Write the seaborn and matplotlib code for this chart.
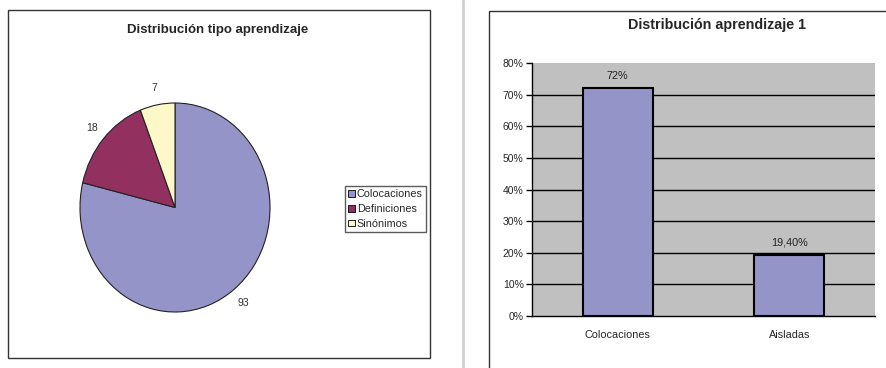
import matplotlib
matplotlib.use("Agg")
import matplotlib.pyplot as plt
import matplotlib.patches as mpatches
import matplotlib.lines as mlines
import seaborn as sns
import pandas as pd

# Pie data
pie_title = "Distribución tipo aprendizaje"
pie_categories = ["Colocaciones", "Definiciones", "Sinónimos"]
pie_values = [93, 18, 7]
pie_colors = ["#9494c8", "#923060", "#fdf8c8"]

# Bar data
bar_title = "Distribución aprendizaje 1"
bar_categories = ["Colocaciones", "Aisladas"]
bar_values = [0.72, 0.194]
bar_labels = ["72%", "19,40%"]
bar_color = "#9494c8"
y_ticks = [0, 0.1, 0.2, 0.3, 0.4, 0.5, 0.6, 0.7, 0.8]
y_ticklabels = ["0%", "10%", "20%", "30%", "40%", "50%", "60%", "70%", "80%"]

sns.set_style("white")
plt.rcParams["font.family"] = ["Liberation Sans", "DejaVu Sans"]

W, H = 887, 368
fig = plt.figure(figsize=(W / 100, H / 100), dpi=100)


def px_box(x0, y0, x1, y1):
    # pixel box (top-left origin) -> figure fraction rect
    return [x0 / W, 1 - y1 / H, (x1 - x0) / W, (y1 - y0) / H]


# panel frames and separator
fig.patches.append(mpatches.Rectangle((8 / W, 1 - 358 / H), 422 / W, 348 / H,
                                      transform=fig.transFigure, fill=False,
                                      edgecolor="#333333", lw=1))
fig.patches.append(mpatches.Rectangle((489 / W, -0.1), 1.0, 1.1 - 11 / H,
                                      transform=fig.transFigure, fill=False,
                                      edgecolor="#333333", lw=1))
fig.lines.append(mlines.Line2D([463 / W, 463 / W], [0, 1], transform=fig.transFigure,
                               color="#d0d0d0", lw=2))

# ---- pie ----
fig.text(218 / W, 1 - 30 / H, pie_title, ha="center", va="center",
         fontsize=9.5, fontweight="bold")
ax1 = fig.add_axes(px_box(80, 103, 270, 312))
wedges, texts = ax1.pie(pie_values, colors=pie_colors, startangle=90, counterclock=False,
                        labels=[str(v) for v in pie_values], labeldistance=1.16,
                        wedgeprops=dict(edgecolor="#222222", linewidth=0.8),
                        textprops=dict(fontsize=7.5, color="#333333"))
for t in texts:
    t.set_ha("center")
    t.set_va("center")
ax1.set_aspect("auto")
ax1.set_xlim(-1, 1)
ax1.set_ylim(-1, 1)

handles = [mpatches.Patch(facecolor=c, edgecolor="black", lw=0.6) for c in pie_colors]
fig.legend(handles, pie_categories, loc="center left",
           bbox_to_anchor=(345 / W, 1 - 209 / H), fontsize=7.8,
           frameon=True, fancybox=False, edgecolor="#333333",
           handlelength=0.6, handleheight=0.6, handletextpad=0.2,
           borderpad=0.3, labelspacing=0.45, borderaxespad=0)

# ---- bars ----
fig.text(717 / W, 1 - 25 / H, bar_title, ha="center", va="center",
         fontsize=10.3, fontweight="bold")
ax2 = fig.add_axes(px_box(532, 63, 875, 316))
df = pd.DataFrame({"cat": bar_categories, "val": bar_values})
sns.barplot(data=df, x="cat", y="val", color=bar_color, width=0.41,
            edgecolor="black", linewidth=1.5, saturation=1, ax=ax2, zorder=3)
ax2.set_facecolor("#c0c0c0")
ax2.set_ylim(0, 0.8)
ax2.set_xlim(-0.5, 1.5)
ax2.set_yticks(y_ticks)
ax2.set_yticklabels(y_ticklabels, fontsize=7.5)
ax2.yaxis.grid(True, color="black", lw=1)
ax2.set_axisbelow(True)
ax2.get_ygridlines()[-1].set_visible(False)
ax2.get_ygridlines()[0].set_visible(False)
ax2.set_xlabel("")
ax2.set_ylabel("")
ax2.set_xticks(range(len(bar_categories)))
ax2.set_xticklabels(bar_categories, fontsize=7.8)
ax2.set_xticks([-0.5, 0.5, 1.5], minor=True)
ax2.tick_params(axis="x", which="major", length=0, pad=10)
ax2.tick_params(axis="x", which="minor", length=4, width=1, color="black", direction="out")
ax2.tick_params(axis="y", length=4, width=1, color="black", direction="out", pad=2,
                left=True)
for s in ["top", "right"]:
    ax2.spines[s].set_visible(False)
for s in ["left", "bottom"]:
    ax2.spines[s].set_color("black")
    ax2.spines[s].set_linewidth(1)
for i, (v, lab) in enumerate(zip(bar_values, bar_labels)):
    ax2.annotate(lab, (i, v), xytext=(0, 9), textcoords="offset points",
                 ha="center", va="center", fontsize=7.8, color="#222222")

fig.savefig("out.png", dpi=100)
